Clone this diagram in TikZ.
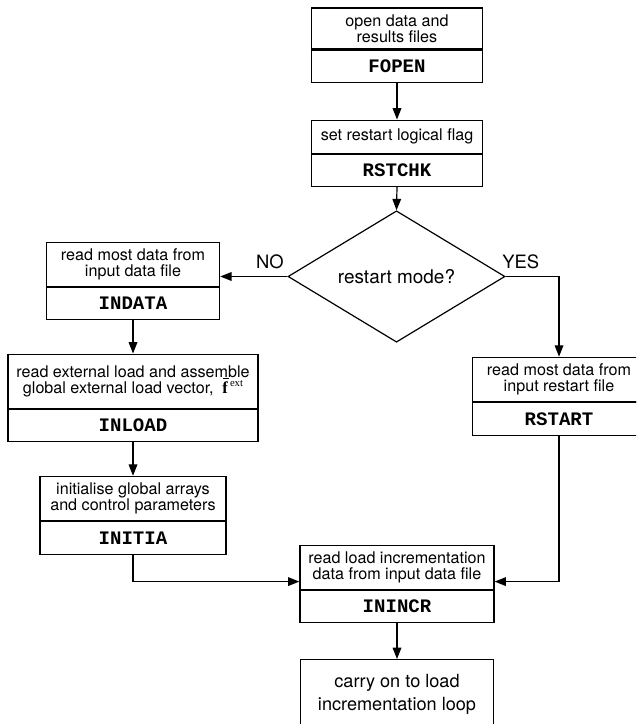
\documentclass[tikz,border=0pt]{standalone}
\usepackage{fontspec}
\setmainfont{TeX Gyre Heros}
\newfontfamily\codefont{Liberation Mono}
\newfontfamily\vecfont{Liberation Serif}
\usetikzlibrary{arrows.meta,shapes.geometric,calc}

\tikzset{
  textbox/.style={draw, line width=0.9pt, inner sep=0pt, align=center,
    font=\fontsize{12.1pt}{11.8pt}\selectfont},
  bigbox/.style={draw, line width=0.9pt, inner sep=0pt, align=center,
    font=\fontsize{13.6pt}{17.6pt}\selectfont},
  codebox/.style={draw, line width=0.9pt, inner sep=0pt,
    font=\codefont\bfseries\fontsize{14.3pt}{16pt}\selectfont},
  decision/.style={draw, shape=diamond, line width=0.9pt, inner sep=0pt,
    font=\fontsize{14.2pt}{16pt}\selectfont},
  flag/.style={inner sep=0pt, font=\fontsize{13.8pt}{16pt}\selectfont},
  divider/.style={line width=1.4pt},
  link/.style={line width=0.9pt, -{Triangle[length=8.5pt,width=6.5pt]}},
}

% external load vector symbol: bold f with a bar, superscript ext
\newcommand\fext{%
  {\vecfont\bfseries\fontsize{12.5pt}{13pt}\selectfont
   \makebox[0pt][l]{\hspace{0.6pt}\raisebox{10.2pt}{\rule{4.4pt}{0.8pt}}}f}%
  \hspace{1.5pt}\raisebox{4.6pt}{\vecfont\fontsize{8pt}{8pt}\selectfont ext}}

% stage box: description on top, routine name below
% #1 name, #2 centre x, #3 top y, #4 width, #5 upper height, #6 lower height (all px)
\newcommand\stagebox[8]{%
  \node[textbox, minimum width=#4*0.75pt, minimum height=#5*0.75pt, anchor=north]
    (#1) at (#2,#3) {#7};
  \node[codebox, minimum width=#4*0.75pt, minimum height=#6*0.75pt, anchor=north]
    (#1-code) at (#1.south) {#8};
  \draw[divider] (#1-code.north west) -- (#1-code.north east);
}

\begin{document}
\begin{tikzpicture}[x=0.75pt,y=-0.75pt]
  \useasboundingbox (0,0) rectangle (636,724);
  \clip (0,0) rectangle (636,724);

  % main column
  \stagebox{fopen}{397}{7.5}{171}{40.8}{32.4}{open data and\\results files}{FOPEN}
  \stagebox{rstchk}{397}{119.5}{171}{33.2}{31.6}{set restart logical flag}{RSTCHK}
  \node[decision, minimum width=217*0.75pt, minimum height=105.3*0.75pt]
    (mode) at (396.5,276.5) {restart mode?};

  % no-restart branch
  \stagebox{indata}{133}{241.7}{173.3}{44.3}{31.7}{read most data from\\input data file}{INDATA}
  \stagebox{inload}{133}{353.5}{250}{54}{32.5}{read external load and assemble\\global external load vector, \ \fext}{INLOAD}
  \stagebox{initia}{133}{475.7}{186}{44.3}{32.3}{initialise global arrays\\and control parameters}{INITIA}

  % restart branch
  \stagebox{rstart}{559}{356.7}{173.4}{44}{32.6}{read most data from\\input restart file}{RSTART}

  % common part
  \stagebox{inincr}{397}{544.7}{194}{43.8}{31.8}{read load incrementation\\data from input data file}{ININCR}
  \node[bigbox, minimum width=193.3*0.75pt, minimum height=69*0.75pt, anchor=north]
    (carry) at (397,659) {carry on to load\\incrementation loop};

  % branch labels
  \node[flag, anchor=base east] (no) at (284,268) {NO};
  \node[flag, anchor=base west] (yes) at (502,268) {YES};

  % connectors
  \coordinate (merge) at (0,581.6);
  \draw[link] (fopen-code.south) -- (rstchk.north);
  \draw[link] (rstchk-code.south) -- (mode.north);
  \draw[link] (mode.west) -- (mode.west -| indata.east);
  \draw[link] (mode.east) -| (rstart.north);
  \draw[link] (indata-code.south) -- (inload.north);
  \draw[link] (inload-code.south) -- (initia.north);
  \draw[link] (initia-code.south) |- (merge -| inincr.west);
  \draw[link] (rstart-code.south) |- (merge -| inincr.east);
  \draw[link] (inincr-code.south) -- (carry.north);
\end{tikzpicture}
\end{document}
